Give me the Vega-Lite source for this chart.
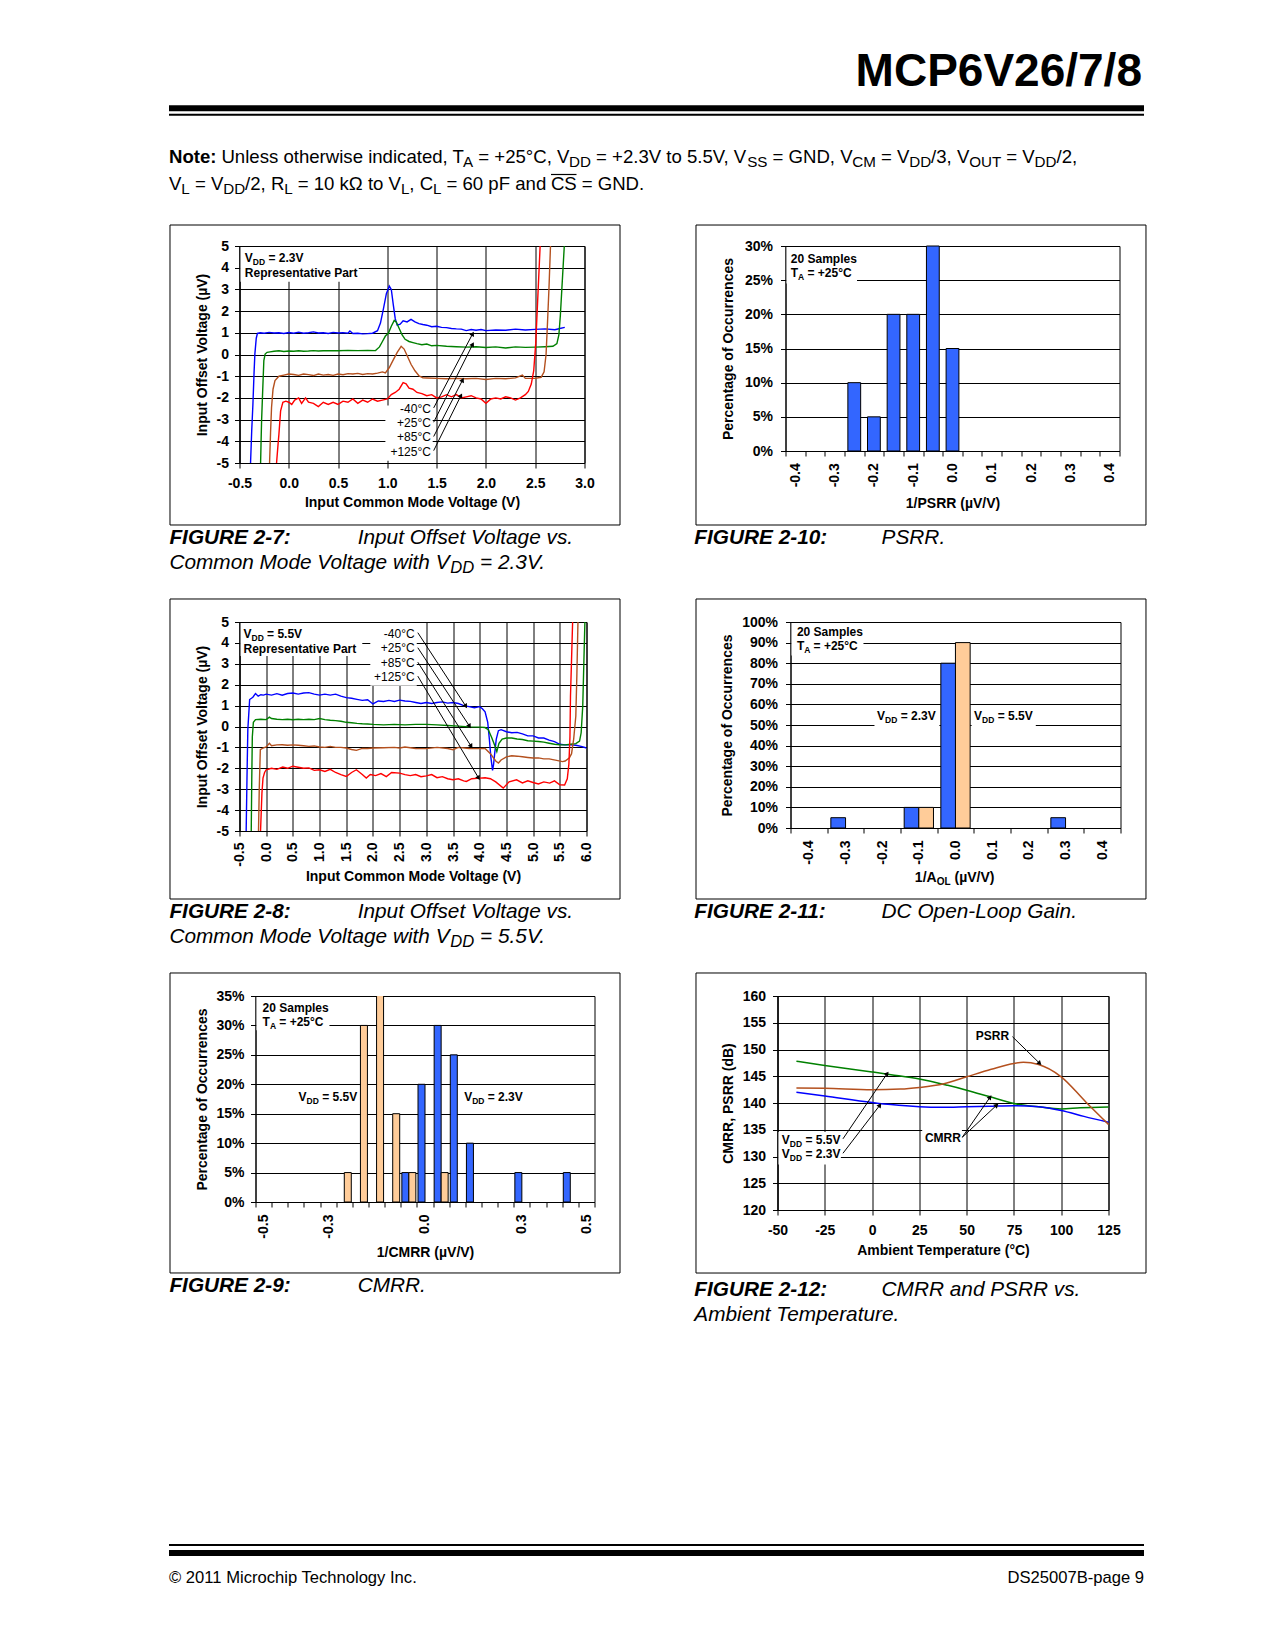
{
"$schema":"https://vega.github.io/schema/vega-lite/v6.json",
"padding":{"left":85.5,"top":0,"right":0,"bottom":0},
"columns":1,"spacing":0,
"config":{
 "font":"Liberation Sans",
 "view":{"stroke":"black","strokeWidth":1},
 "axis":{"domainColor":"black","tickColor":"black","gridColor":"black","gridOpacity":1,"labelColor":"black","titleColor":"black","labelFont":"Liberation Sans","titleFont":"Liberation Sans","labelFontSize":14,"titleFontSize":14,"labelFontWeight":"bold","titleFontWeight":"bold","tickSize":5,"tickCount":60,"labelFlush":false,"labelOverlap":false,"labelBound":false,"domainWidth":1,"gridWidth":1,"tickWidth":1},
 "text":{"font":"Liberation Sans","fill":"black","baseline":"alphabetic"}
},
"concat":[
{
 "width":1059,"height":224,"view":{"stroke":null},
 "layer":[
  {"data":{"values":[{"x":169,"x2":1144,"y":108.3}]},"mark":{"type":"rule","strokeWidth":6,"color":"black"},
   "encoding":{"x":{"field":"x","type":"quantitative","scale":{"domain":[85.5,1144.5],"nice":false,"zero":false},"axis":null},"x2":{"field":"x2"},"y":{"field":"y","type":"quantitative","scale":{"domain":[0,224],"nice":false,"zero":false,"reverse":true},"axis":null}}},
  {"data":{"values":[{"x":169,"x2":1144,"y":114.8}]},"mark":{"type":"rule","strokeWidth":2,"color":"black"},
   "encoding":{"x":{"field":"x","type":"quantitative","axis":null},"x2":{"field":"x2"},"y":{"field":"y","type":"quantitative","axis":null}}},
  {"data":{"values":[{"x":1142,"y":86,"t":"MCP6V26/7/8"}]},"mark":{"type":"text","fontWeight":"bold","fontSize":46,"align":"right","baseline":"alphabetic"},
   "encoding":{"x":{"field":"x","type":"quantitative","axis":null},"y":{"field":"y","type":"quantitative","axis":null},"text":{"field":"t"}}},
  {"data":{"values":[{"x":169,"y":163,"t":"Note:"}]},"mark":{"type":"text","fontWeight":"bold","fontSize":18.6,"align":"left","baseline":"alphabetic"},
   "encoding":{"x":{"field":"x","type":"quantitative","axis":null},"y":{"field":"y","type":"quantitative","axis":null},"text":{"field":"t"}}},
  {"data":{"values":[
    {"x":221.4,"y":163,"t":"Unless otherwise indicated, T"},
    {"x":478.3,"y":163,"t":"= +25°C, V"},
    {"x":596.0,"y":163,"t":"= +2.3V to 5.5V, V"},
    {"x":772.5,"y":163,"t":"= GND, V"},
    {"x":880.9,"y":163,"t":"= V"},
    {"x":931.1,"y":163,"t":"/3, V"},
    {"x":1006.3,"y":163,"t":"= V"},
    {"x":1056.5,"y":163,"t":"/2,"},
    {"x":169,"y":190,"t":"V"},
    {"x":194.9,"y":190,"t":"= V"},
    {"x":245.1,"y":190,"t":"/2, R"},
    {"x":297.7,"y":190,"t":"= 10 kΩ to V"},
    {"x":409.3,"y":190,"t":", C"},
    {"x":446.5,"y":190,"t":"= 60 pF and"},
    {"x":550.9,"y":190,"t":"CS"},
    {"x":581.7,"y":190,"t":"= GND."}]},
   "mark":{"type":"text","fontSize":18.6,"align":"left","baseline":"alphabetic"},
   "encoding":{"x":{"field":"x","type":"quantitative","axis":null},"y":{"field":"y","type":"quantitative","axis":null},"text":{"field":"t"}}},
  {"data":{"values":[
    {"x":463.1,"y":163,"t":"A"},{"x":569.0,"y":163,"t":"DD"},{"x":747.2,"y":163,"t":"SS"},{"x":852.2,"y":163,"t":"CM"},{"x":909.2,"y":163,"t":"DD"},{"x":969.2,"y":163,"t":"OUT"},{"x":1034.6,"y":163,"t":"DD"},
    {"x":181.3,"y":190,"t":"L"},{"x":223.2,"y":190,"t":"DD"},{"x":284.2,"y":190,"t":"L"},{"x":400.9,"y":190,"t":"L"},{"x":433.0,"y":190,"t":"L"}]},
   "mark":{"type":"text","fontSize":15.2,"align":"left","baseline":"alphabetic","dy":4},
   "encoding":{"x":{"field":"x","type":"quantitative","axis":null},"y":{"field":"y","type":"quantitative","axis":null},"text":{"field":"t"}}},
  {"data":{"values":[{"x":551,"x2":576.5,"y":174.5}]},"mark":{"type":"rule","strokeWidth":1.2,"color":"black"},
   "encoding":{"x":{"field":"x","type":"quantitative","axis":null},"x2":{"field":"x2"},"y":{"field":"y","type":"quantitative","axis":null}}}
 ]
},
{"columns":3,"spacing":73,"concat":[
 {"width":10,"height":10,"view":{"stroke":null},"data":{"values":[{}]},"mark":{"type":"point","opacity":0,"size":1},"encoding":{}},
 {
  "width":345,"height":217,
  "layer":[
   {"data":{"values":[{"x":-1.2051,"x2":3.3602,"y":5.9677,"y2":-7.8571}]},
    "mark":{"type":"rect","fillOpacity":0,"stroke":"black","strokeWidth":1},
    "encoding":{
     "x":{"field":"x","type":"quantitative","scale":{"domain":[-0.5,3],"nice":false,"zero":false,"padding":0},"axis":{"values":[-0.5,0,0.5,1,1.5,2,2.5,3],"tickCount":60,"format":".1f","labelExpr":"replace(datum.label,'−','-')","title":"Input Common Mode Voltage (V)","grid":true,"labelPadding":8.5,"titlePadding":4.5}},
     "x2":{"field":"x2"},
     "y":{"field":"y","type":"quantitative","scale":{"domain":[-5,5],"nice":false,"zero":false,"padding":0},"axis":{"values":[-5,-4,-3,-2,-1,0,1,2,3,4,5],"tickCount":60,"format":"d","labelExpr":"replace(datum.label,'−','-')","title":"Input Offset Voltage (µV)","grid":true,"labelPadding":6,"titlePadding":6.5}},
     "y2":{"field":"y2"}}},
   {"data":{"values":[
    {"x":-0.388,"y":-5,"s":"a"},{"x":-0.376,"y":-3.5,"s":"a"},{"x":-0.364,"y":-2.3,"s":"a"},{"x":-0.352,"y":-0.8,"s":"a"},{"x":-0.344,"y":0.03,"s":"a"},{"x":-0.33,"y":0.75,"s":"a"},{"x":-0.318,"y":0.97,"s":"a"},{"x":-0.29,"y":1.0,"s":"a"},{"x":-0.25,"y":0.98,"s":"a"},{"x":-0.2,"y":1.02,"s":"a"},{"x":-0.15,"y":0.99,"s":"a"},{"x":-0.1,"y":1.0,"s":"a"},{"x":-0.05,"y":0.97,"s":"a"},{"x":0,"y":1.01,"s":"a"},{"x":0.05,"y":0.98,"s":"a"},{"x":0.1,"y":1.03,"s":"a"},{"x":0.15,"y":0.98,"s":"a"},{"x":0.2,"y":1.0,"s":"a"},{"x":0.25,"y":1.04,"s":"a"},{"x":0.3,"y":0.99,"s":"a"},{"x":0.35,"y":1.0,"s":"a"},{"x":0.4,"y":0.97,"s":"a"},{"x":0.45,"y":1.02,"s":"a"},{"x":0.5,"y":0.99,"s":"a"},{"x":0.55,"y":1.01,"s":"a"},{"x":0.6,"y":0.98,"s":"a"},{"x":0.62,"y":1.08,"s":"a"},{"x":0.65,"y":0.97,"s":"a"},{"x":0.7,"y":0.98,"s":"a"},{"x":0.75,"y":0.95,"s":"a"},{"x":0.8,"y":0.96,"s":"a"},{"x":0.85,"y":0.98,"s":"a"},{"x":0.9,"y":1.1,"s":"a"},{"x":0.93,"y":1.45,"s":"a"},{"x":0.96,"y":2.1,"s":"a"},{"x":0.99,"y":2.8,"s":"a"},{"x":1.02,"y":3.15,"s":"a"},{"x":1.04,"y":3.0,"s":"a"},{"x":1.06,"y":2.3,"s":"a"},{"x":1.08,"y":1.65,"s":"a"},{"x":1.1,"y":1.35,"s":"a"},{"x":1.13,"y":1.4,"s":"a"},{"x":1.16,"y":1.55,"s":"a"},{"x":1.2,"y":1.5,"s":"a"},{"x":1.24,"y":1.62,"s":"a"},{"x":1.28,"y":1.5,"s":"a"},{"x":1.32,"y":1.42,"s":"a"},{"x":1.36,"y":1.38,"s":"a"},{"x":1.4,"y":1.35,"s":"a"},{"x":1.45,"y":1.28,"s":"a"},{"x":1.5,"y":1.3,"s":"a"},{"x":1.55,"y":1.25,"s":"a"},{"x":1.6,"y":1.24,"s":"a"},{"x":1.65,"y":1.2,"s":"a"},{"x":1.7,"y":1.18,"s":"a"},{"x":1.75,"y":1.17,"s":"a"},{"x":1.8,"y":1.1,"s":"a"},{"x":1.85,"y":1.15,"s":"a"},{"x":1.9,"y":1.12,"s":"a"},{"x":1.95,"y":1.15,"s":"a"},{"x":2.0,"y":1.1,"s":"a"},{"x":2.1,"y":1.13,"s":"a"},{"x":2.2,"y":1.12,"s":"a"},{"x":2.3,"y":1.17,"s":"a"},{"x":2.4,"y":1.13,"s":"a"},{"x":2.5,"y":1.16,"s":"a"},{"x":2.6,"y":1.18,"s":"a"},{"x":2.7,"y":1.14,"s":"a"},{"x":2.75,"y":1.2,"s":"a"},{"x":2.8,"y":1.25,"s":"a"},
    {"x":-0.286,"y":-5,"s":"b"},{"x":-0.281,"y":-4,"s":"b"},{"x":-0.276,"y":-3.06,"s":"b"},{"x":-0.265,"y":-1.7,"s":"b"},{"x":-0.253,"y":-0.28,"s":"b"},{"x":-0.24,"y":0.02,"s":"b"},{"x":-0.22,"y":0.1,"s":"b"},{"x":-0.19,"y":0.12,"s":"b"},{"x":-0.15,"y":0.15,"s":"b"},{"x":-0.1,"y":0.17,"s":"b"},{"x":-0.05,"y":0.14,"s":"b"},{"x":0,"y":0.16,"s":"b"},{"x":0.05,"y":0.15,"s":"b"},{"x":0.1,"y":0.17,"s":"b"},{"x":0.15,"y":0.15,"s":"b"},{"x":0.2,"y":0.16,"s":"b"},{"x":0.25,"y":0.18,"s":"b"},{"x":0.3,"y":0.16,"s":"b"},{"x":0.35,"y":0.17,"s":"b"},{"x":0.4,"y":0.18,"s":"b"},{"x":0.5,"y":0.17,"s":"b"},{"x":0.6,"y":0.19,"s":"b"},{"x":0.7,"y":0.18,"s":"b"},{"x":0.8,"y":0.19,"s":"b"},{"x":0.88,"y":0.18,"s":"b"},{"x":0.92,"y":0.35,"s":"b"},{"x":0.95,"y":0.6,"s":"b"},{"x":0.98,"y":0.85,"s":"b"},{"x":1.01,"y":0.98,"s":"b"},{"x":1.04,"y":1.3,"s":"b"},{"x":1.07,"y":1.57,"s":"b"},{"x":1.09,"y":1.5,"s":"b"},{"x":1.12,"y":1.2,"s":"b"},{"x":1.15,"y":0.9,"s":"b"},{"x":1.18,"y":0.7,"s":"b"},{"x":1.22,"y":0.6,"s":"b"},{"x":1.26,"y":0.55,"s":"b"},{"x":1.3,"y":0.5,"s":"b"},{"x":1.35,"y":0.45,"s":"b"},{"x":1.4,"y":0.48,"s":"b"},{"x":1.45,"y":0.4,"s":"b"},{"x":1.5,"y":0.42,"s":"b"},{"x":1.6,"y":0.38,"s":"b"},{"x":1.7,"y":0.36,"s":"b"},{"x":1.8,"y":0.34,"s":"b"},{"x":1.9,"y":0.36,"s":"b"},{"x":2.0,"y":0.32,"s":"b"},{"x":2.1,"y":0.35,"s":"b"},{"x":2.2,"y":0.3,"s":"b"},{"x":2.3,"y":0.35,"s":"b"},{"x":2.4,"y":0.33,"s":"b"},{"x":2.5,"y":0.34,"s":"b"},{"x":2.6,"y":0.36,"s":"b"},{"x":2.68,"y":0.38,"s":"b"},{"x":2.72,"y":0.5,"s":"b"},{"x":2.74,"y":0.9,"s":"b"},{"x":2.755,"y":1.8,"s":"b"},{"x":2.77,"y":3.0,"s":"b"},{"x":2.785,"y":4.2,"s":"b"},{"x":2.795,"y":5.0,"s":"b"},
    {"x":-0.195,"y":-5,"s":"c"},{"x":-0.185,"y":-3.6,"s":"c"},{"x":-0.175,"y":-2.44,"s":"c"},{"x":-0.16,"y":-1.6,"s":"c"},{"x":-0.14,"y":-1.2,"s":"c"},{"x":-0.1,"y":-1.0,"s":"c"},{"x":-0.05,"y":-0.95,"s":"c"},{"x":0,"y":-0.9,"s":"c"},{"x":0.05,"y":-0.92,"s":"c"},{"x":0.1,"y":-0.96,"s":"c"},{"x":0.15,"y":-0.9,"s":"c"},{"x":0.2,"y":-0.93,"s":"c"},{"x":0.25,"y":-0.97,"s":"c"},{"x":0.3,"y":-0.9,"s":"c"},{"x":0.35,"y":-0.95,"s":"c"},{"x":0.4,"y":-0.92,"s":"c"},{"x":0.45,"y":-0.96,"s":"c"},{"x":0.5,"y":-0.9,"s":"c"},{"x":0.55,"y":-0.93,"s":"c"},{"x":0.6,"y":-0.88,"s":"c"},{"x":0.65,"y":-0.9,"s":"c"},{"x":0.7,"y":-0.87,"s":"c"},{"x":0.75,"y":-0.92,"s":"c"},{"x":0.8,"y":-0.88,"s":"c"},{"x":0.85,"y":-0.9,"s":"c"},{"x":0.9,"y":-0.86,"s":"c"},{"x":0.95,"y":-0.8,"s":"c"},{"x":0.98,"y":-0.85,"s":"c"},{"x":1.02,"y":-0.6,"s":"c"},{"x":1.06,"y":-0.25,"s":"c"},{"x":1.1,"y":0.1,"s":"c"},{"x":1.14,"y":0.38,"s":"c"},{"x":1.17,"y":0.25,"s":"c"},{"x":1.2,"y":-0.05,"s":"c"},{"x":1.24,"y":-0.45,"s":"c"},{"x":1.28,"y":-0.75,"s":"c"},{"x":1.32,"y":-0.98,"s":"c"},{"x":1.36,"y":-1.07,"s":"c"},{"x":1.4,"y":-1.08,"s":"c"},{"x":1.5,"y":-1.1,"s":"c"},{"x":1.6,"y":-1.12,"s":"c"},{"x":1.7,"y":-1.1,"s":"c"},{"x":1.8,"y":-1.12,"s":"c"},{"x":1.9,"y":-1.1,"s":"c"},{"x":2.0,"y":-1.15,"s":"c"},{"x":2.1,"y":-1.1,"s":"c"},{"x":2.2,"y":-1.12,"s":"c"},{"x":2.3,"y":-1.08,"s":"c"},{"x":2.37,"y":-0.95,"s":"c"},{"x":2.4,"y":-1.1,"s":"c"},{"x":2.5,"y":-1.1,"s":"c"},{"x":2.56,"y":-1.05,"s":"c"},{"x":2.59,"y":-0.8,"s":"c"},{"x":2.61,"y":0.0,"s":"c"},{"x":2.625,"y":1.5,"s":"c"},{"x":2.64,"y":3.1,"s":"c"},{"x":2.655,"y":5.0,"s":"c"},
    {"x":-0.124,"y":-5,"s":"d"},{"x":-0.11,"y":-4.2,"s":"d"},{"x":-0.1,"y":-3.67,"s":"d"},{"x":-0.083,"y":-2.6,"s":"d"},{"x":-0.06,"y":-2.2,"s":"d"},{"x":-0.03,"y":-2.15,"s":"d"},{"x":0,"y":-2.2,"s":"d"},{"x":0.03,"y":-2.3,"s":"d"},{"x":0.06,"y":-2.1,"s":"d"},{"x":0.1,"y":-2.0,"s":"d"},{"x":0.13,"y":-2.25,"s":"d"},{"x":0.17,"y":-2.0,"s":"d"},{"x":0.2,"y":-2.2,"s":"d"},{"x":0.25,"y":-2.25,"s":"d"},{"x":0.3,"y":-2.4,"s":"d"},{"x":0.35,"y":-2.2,"s":"d"},{"x":0.4,"y":-2.3,"s":"d"},{"x":0.45,"y":-2.2,"s":"d"},{"x":0.5,"y":-2.3,"s":"d"},{"x":0.55,"y":-2.15,"s":"d"},{"x":0.6,"y":-2.2,"s":"d"},{"x":0.65,"y":-2.05,"s":"d"},{"x":0.7,"y":-2.25,"s":"d"},{"x":0.75,"y":-2.1,"s":"d"},{"x":0.8,"y":-2.2,"s":"d"},{"x":0.85,"y":-2.05,"s":"d"},{"x":0.9,"y":-2.15,"s":"d"},{"x":0.95,"y":-2.1,"s":"d"},{"x":1.0,"y":-2.05,"s":"d"},{"x":1.04,"y":-1.85,"s":"d"},{"x":1.08,"y":-1.75,"s":"d"},{"x":1.12,"y":-1.6,"s":"d"},{"x":1.16,"y":-1.3,"s":"d"},{"x":1.19,"y":-1.35,"s":"d"},{"x":1.22,"y":-1.55,"s":"d"},{"x":1.26,"y":-1.6,"s":"d"},{"x":1.3,"y":-1.75,"s":"d"},{"x":1.35,"y":-1.8,"s":"d"},{"x":1.4,"y":-1.9,"s":"d"},{"x":1.45,"y":-1.85,"s":"d"},{"x":1.5,"y":-2.0,"s":"d"},{"x":1.55,"y":-1.95,"s":"d"},{"x":1.6,"y":-1.85,"s":"d"},{"x":1.65,"y":-1.95,"s":"d"},{"x":1.7,"y":-1.85,"s":"d"},{"x":1.75,"y":-2.0,"s":"d"},{"x":1.8,"y":-1.95,"s":"d"},{"x":1.85,"y":-1.9,"s":"d"},{"x":1.9,"y":-2.0,"s":"d"},{"x":1.95,"y":-2.05,"s":"d"},{"x":2.0,"y":-2.25,"s":"d"},{"x":2.05,"y":-2.05,"s":"d"},{"x":2.1,"y":-2.0,"s":"d"},{"x":2.15,"y":-2.05,"s":"d"},{"x":2.2,"y":-1.95,"s":"d"},{"x":2.25,"y":-2.0,"s":"d"},{"x":2.3,"y":-2.1,"s":"d"},{"x":2.35,"y":-2.0,"s":"d"},{"x":2.4,"y":-1.85,"s":"d"},{"x":2.43,"y":-1.7,"s":"d"},{"x":2.46,"y":-1.36,"s":"d"},{"x":2.485,"y":-0.74,"s":"d"},{"x":2.505,"y":0.5,"s":"d"},{"x":2.52,"y":2.0,"s":"d"},{"x":2.535,"y":3.5,"s":"d"},{"x":2.55,"y":5.0,"s":"d"}]},
    "mark":{"type":"line","strokeWidth":1.4,"clip":true},
    "encoding":{"x":{"field":"x","type":"quantitative"},"y":{"field":"y","type":"quantitative"},"color":{"field":"s","type":"nominal","scale":{"domain":["a","b","c","d"],"range":["#0000FF","#008000","#B4501E","#FF0000"]},"legend":null}}},
   {"data":{"values":[{"x":-0.49,"x2":0.71,"y":4.955,"y2":3.35},{"x":0.98,"x2":1.46,"y":-2.35,"y2":-4.9}]},
    "mark":{"type":"rect","fill":"white","strokeWidth":0},
    "encoding":{"x":{"field":"x","type":"quantitative"},"x2":{"field":"x2"},"y":{"field":"y","type":"quantitative"},"y2":{"field":"y2"}}},
   {"data":{"values":[{"x":-0.446,"y":4.28,"t":"V"},{"x":-0.2068,"y":4.28,"t":"= 2.3V"},{"x":-0.446,"y":3.55,"t":"Representative Part"}]},
    "mark":{"type":"text","fontWeight":"bold","fontSize":12,"align":"left","baseline":"alphabetic"},
    "encoding":{"x":{"field":"x","type":"quantitative"},"y":{"field":"y","type":"quantitative"},"text":{"field":"t"}}},
   {"data":{"values":[{"x":-0.3648,"y":4.28,"t":"DD"}]},
    "mark":{"type":"text","fontWeight":"bold","fontSize":8.5,"align":"left","baseline":"alphabetic","dy":3},
    "encoding":{"x":{"field":"x","type":"quantitative"},"y":{"field":"y","type":"quantitative"},"text":{"field":"t"}}},
   {"data":{"values":[{"x":1.442,"y":-2.68,"t":"-40°C"},{"x":1.442,"y":-3.33,"t":"+25°C"},{"x":1.442,"y":-4.0,"t":"+85°C"},{"x":1.442,"y":-4.66,"t":"+125°C"}]},
    "mark":{"type":"text","fontSize":12,"align":"right","baseline":"alphabetic"},
    "encoding":{"x":{"field":"x","type":"quantitative"},"y":{"field":"y","type":"quantitative"},"text":{"field":"t"}}},
   {"data":{"values":[{"x":1.47,"y":-2.46,"x2":1.866,"y2":0.96},{"x":1.47,"y":-3.12,"x2":1.866,"y2":0.47},{"x":1.47,"y":-3.78,"x2":1.764,"y2":-1.17},{"x":1.47,"y":-4.43,"x2":1.747,"y2":-1.89}]},
    "mark":{"type":"rule","strokeWidth":1,"color":"black"},
    "encoding":{"x":{"field":"x","type":"quantitative"},"y":{"field":"y","type":"quantitative"},"x2":{"field":"x2"},"y2":{"field":"y2"}}},
   {"data":{"values":[{"x":1.866,"y":0.96},{"x":1.866,"y":0.47},{"x":1.764,"y":-1.17},{"x":1.747,"y":-1.89}]},
    "mark":{"type":"point","shape":"triangle-up","angle":28,"size":28,"filled":true,"color":"black","opacity":1},
    "encoding":{"x":{"field":"x","type":"quantitative"},"y":{"field":"y","type":"quantitative"}}}
  ]
 },
 {
  "width":334,"height":205,
  "layer":[
   {"data":{"values":[{"x":-0.6528,"x2":0.4924,"y":0.3307,"y2":-0.1083}]},
    "mark":{"type":"rect","fillOpacity":0,"stroke":"black","strokeWidth":1},
    "encoding":{
     "x":{"field":"x","type":"quantitative","scale":{"domain":[-0.425,0.425],"nice":false,"zero":false,"padding":0},"axis":{"values":[-0.425,-0.375,-0.325,-0.275,-0.225,-0.175,-0.125,-0.075,-0.025,0.025,0.075,0.125,0.175,0.225,0.275,0.325,0.375,0.425],"tickCount":60,"labelExpr":"abs(round((datum.value+0.025)*20)) % 2 == 0 ? (round((datum.value+0.025)*10) == 0 ? '0.0' : replace(format(round((datum.value+0.025)*10)/10, '.1f'), '−', '-')) : ''","labelOffset":9.8,"labelAngle":-90,"title":"1/PSRR (µV/V)","grid":false,"labelPadding":6.7,"titlePadding":10}},
     "x2":{"field":"x2"},
     "y":{"field":"y","type":"quantitative","scale":{"domain":[0,0.3],"nice":false,"zero":false,"padding":0},"axis":{"values":[0,0.05,0.1,0.15,0.2,0.25,0.3],"tickCount":60,"format":".0%","title":"Percentage of Occurrences","grid":true,"labelPadding":8,"titlePadding":9}},
     "y2":{"field":"y2"}}},
   {"data":{"values":[{"x":-0.25,"y":0.10},{"x":-0.2,"y":0.05},{"x":-0.15,"y":0.20},{"x":-0.1,"y":0.20},{"x":-0.05,"y":0.30},{"x":0,"y":0.15}]},
    "mark":{"type":"bar","orient":"vertical","width":12.8,"fill":"#3366FF","stroke":"black","strokeWidth":1},
    "encoding":{"x":{"field":"x","type":"quantitative"},"y":{"field":"y","type":"quantitative"},"y2":{"datum":0}}},
   {"data":{"values":[{"x":-0.4225,"x2":-0.243,"y":0.2985,"y2":0.245}]},
    "mark":{"type":"rect","fill":"white","strokeWidth":0},
    "encoding":{"x":{"field":"x","type":"quantitative"},"x2":{"field":"x2"},"y":{"field":"y","type":"quantitative"},"y2":{"field":"y2"}}},
   {"data":{"values":[{"x":-0.4115,"y":0.275,"t":"20 Samples"},{"x":-0.4115,"y":0.2548,"t":"T"},{"x":-0.369,"y":0.2548,"t":"= +25°C"}]},
    "mark":{"type":"text","fontWeight":"bold","fontSize":12,"align":"left","baseline":"alphabetic"},
    "encoding":{"x":{"field":"x","type":"quantitative"},"y":{"field":"y","type":"quantitative"},"text":{"field":"t"}}},
   {"data":{"values":[{"x":-0.3929,"y":0.2548,"t":"A"}]},
    "mark":{"type":"text","fontWeight":"bold","fontSize":8.5,"align":"left","baseline":"alphabetic","dy":3},
    "encoding":{"x":{"field":"x","type":"quantitative"},"y":{"field":"y","type":"quantitative"},"text":{"field":"t"}}}
  ]
 }
]},
{
 "width":1059,"height":69.4,"view":{"stroke":null},
 "layer":[
  {"data":{"values":[{"x":169.4,"y":543,"t":"FIGURE 2-7:"},{"x":694.3,"y":543,"t":"FIGURE 2-10:"}]},
   "mark":{"type":"text","fontWeight":"bold","fontStyle":"italic","fontSize":20.8,"align":"left","baseline":"alphabetic"},
   "encoding":{"x":{"field":"x","type":"quantitative","scale":{"domain":[85.5,1144.5],"nice":false,"zero":false},"axis":null},"y":{"field":"y","type":"quantitative","scale":{"domain":[526,595.4],"nice":false,"zero":false,"reverse":true},"axis":null},"text":{"field":"t"}}},
  {"data":{"values":[{"x":357.7,"y":543,"t":"Input Offset Voltage vs."},{"x":169.4,"y":568,"t":"Common Mode Voltage with V"},{"x":480.1,"y":568,"t":"= 2.3V."},{"x":881.6,"y":543,"t":"PSRR."}]},
   "mark":{"type":"text","fontStyle":"italic","fontSize":20.8,"align":"left","baseline":"alphabetic"},
   "encoding":{"x":{"field":"x","type":"quantitative","axis":null},"y":{"field":"y","type":"quantitative","axis":null},"text":{"field":"t"}}},
  {"data":{"values":[{"x":450.3,"y":568,"t":"DD"}]},
   "mark":{"type":"text","fontStyle":"italic","fontSize":16.6,"align":"left","baseline":"alphabetic","dy":3.5},
   "encoding":{"x":{"field":"x","type":"quantitative","axis":null},"y":{"field":"y","type":"quantitative","axis":null},"text":{"field":"t"}}}
 ]
},
{"columns":3,"spacing":73,"concat":[
 {"width":10,"height":10,"view":{"stroke":null},"data":{"values":[{}]},"mark":{"type":"point","opacity":0,"size":1},"encoding":{}},
 {
  "width":347,"height":209,
  "layer":[
   {"data":{"values":[{"x":-1.8019,"x2":6.6276,"y":6.1005,"y2":-8.2536}]},
    "mark":{"type":"rect","fillOpacity":0,"stroke":"black","strokeWidth":1},
    "encoding":{
     "x":{"field":"x","type":"quantitative","scale":{"domain":[-0.5,6],"nice":false,"zero":false,"padding":0},"axis":{"values":[-0.5,0,0.5,1,1.5,2,2.5,3,3.5,4,4.5,5,5.5,6],"tickCount":60,"format":".1f","labelExpr":"replace(datum.label,'−','-')","labelAngle":-90,"title":"Input Common Mode Voltage (V)","grid":true,"labelPadding":6,"titlePadding":3.5}},
     "x2":{"field":"x2"},
     "y":{"field":"y","type":"quantitative","scale":{"domain":[-5,5],"nice":false,"zero":false,"padding":0},"axis":{"values":[-5,-4,-3,-2,-1,0,1,2,3,4,5],"tickCount":60,"format":"d","labelExpr":"replace(datum.label,'−','-')","title":"Input Offset Voltage (µV)","grid":true,"labelPadding":6,"titlePadding":6.5}},
     "y2":{"field":"y2"}}},
   {"data":{"values":[
    {"x":-0.375,"y":-5,"s":"a"},{"x":-0.36,"y":-2.5,"s":"a"},{"x":-0.344,"y":-0.15,"s":"a"},{"x":-0.31,"y":1.29,"s":"a"},{"x":-0.25,"y":1.4,"s":"a"},{"x":-0.2,"y":1.58,"s":"a"},{"x":-0.15,"y":1.45,"s":"a"},{"x":-0.1,"y":1.52,"s":"a"},{"x":-0.05,"y":1.5,"s":"a"},{"x":0,"y":1.55,"s":"a"},{"x":0.1,"y":1.5,"s":"a"},{"x":0.2,"y":1.57,"s":"a"},{"x":0.3,"y":1.5,"s":"a"},{"x":0.4,"y":1.58,"s":"a"},{"x":0.5,"y":1.6,"s":"a"},{"x":0.6,"y":1.55,"s":"a"},{"x":0.7,"y":1.6,"s":"a"},{"x":0.8,"y":1.62,"s":"a"},{"x":0.9,"y":1.55,"s":"a"},{"x":1.0,"y":1.5,"s":"a"},{"x":1.1,"y":1.55,"s":"a"},{"x":1.2,"y":1.5,"s":"a"},{"x":1.3,"y":1.55,"s":"a"},{"x":1.4,"y":1.45,"s":"a"},{"x":1.5,"y":1.38,"s":"a"},{"x":1.6,"y":1.35,"s":"a"},{"x":1.7,"y":1.3,"s":"a"},{"x":1.8,"y":1.25,"s":"a"},{"x":1.9,"y":1.28,"s":"a"},{"x":2.0,"y":1.08,"s":"a"},{"x":2.1,"y":1.22,"s":"a"},{"x":2.2,"y":1.2,"s":"a"},{"x":2.3,"y":1.25,"s":"a"},{"x":2.4,"y":1.2,"s":"a"},{"x":2.5,"y":1.26,"s":"a"},{"x":2.6,"y":1.22,"s":"a"},{"x":2.7,"y":1.2,"s":"a"},{"x":2.8,"y":1.15,"s":"a"},{"x":2.9,"y":1.1,"s":"a"},{"x":3.0,"y":1.15,"s":"a"},{"x":3.1,"y":1.1,"s":"a"},{"x":3.2,"y":1.15,"s":"a"},{"x":3.3,"y":1.18,"s":"a"},{"x":3.4,"y":1.12,"s":"a"},{"x":3.5,"y":1.15,"s":"a"},{"x":3.6,"y":1.1,"s":"a"},{"x":3.7,"y":1.0,"s":"a"},{"x":3.8,"y":0.95,"s":"a"},{"x":3.9,"y":0.9,"s":"a"},{"x":4.0,"y":0.95,"s":"a"},{"x":4.05,"y":0.85,"s":"a"},{"x":4.1,"y":0.7,"s":"a"},{"x":4.15,"y":0.2,"s":"a"},{"x":4.18,"y":-0.6,"s":"a"},{"x":4.21,"y":-1.5,"s":"a"},{"x":4.24,"y":-2.1,"s":"a"},{"x":4.26,"y":-1.8,"s":"a"},{"x":4.28,"y":-1.3,"s":"a"},{"x":4.31,"y":-0.6,"s":"a"},{"x":4.35,"y":-0.2,"s":"a"},{"x":4.4,"y":-0.15,"s":"a"},{"x":4.5,"y":-0.25,"s":"a"},{"x":4.6,"y":-0.3,"s":"a"},{"x":4.7,"y":-0.28,"s":"a"},{"x":4.8,"y":-0.35,"s":"a"},{"x":4.9,"y":-0.45,"s":"a"},{"x":5.0,"y":-0.45,"s":"a"},{"x":5.1,"y":-0.55,"s":"a"},{"x":5.2,"y":-0.55,"s":"a"},{"x":5.3,"y":-0.65,"s":"a"},{"x":5.4,"y":-0.72,"s":"a"},{"x":5.5,"y":-0.85,"s":"a"},{"x":5.6,"y":-0.88,"s":"a"},{"x":5.7,"y":-0.88,"s":"a"},{"x":5.8,"y":-0.9,"s":"a"},{"x":5.9,"y":-0.95,"s":"a"},{"x":6.0,"y":-1.03,"s":"a"},
    {"x":-0.28,"y":-5,"s":"b"},{"x":-0.27,"y":-2.5,"s":"b"},{"x":-0.26,"y":-0.5,"s":"b"},{"x":-0.24,"y":0.2,"s":"b"},{"x":-0.2,"y":0.33,"s":"b"},{"x":-0.1,"y":0.35,"s":"b"},{"x":0,"y":0.33,"s":"b"},{"x":0.06,"y":0.45,"s":"b"},{"x":0.1,"y":0.38,"s":"b"},{"x":0.2,"y":0.35,"s":"b"},{"x":0.3,"y":0.33,"s":"b"},{"x":0.4,"y":0.35,"s":"b"},{"x":0.5,"y":0.32,"s":"b"},{"x":0.6,"y":0.35,"s":"b"},{"x":0.7,"y":0.33,"s":"b"},{"x":0.8,"y":0.35,"s":"b"},{"x":0.9,"y":0.33,"s":"b"},{"x":1.0,"y":0.38,"s":"b"},{"x":1.1,"y":0.33,"s":"b"},{"x":1.2,"y":0.3,"s":"b"},{"x":1.3,"y":0.28,"s":"b"},{"x":1.4,"y":0.25,"s":"b"},{"x":1.5,"y":0.2,"s":"b"},{"x":1.6,"y":0.18,"s":"b"},{"x":1.7,"y":0.15,"s":"b"},{"x":1.8,"y":0.13,"s":"b"},{"x":1.9,"y":0.12,"s":"b"},{"x":2.0,"y":0.1,"s":"b"},{"x":2.2,"y":0.08,"s":"b"},{"x":2.4,"y":0.1,"s":"b"},{"x":2.6,"y":0.08,"s":"b"},{"x":2.8,"y":0.1,"s":"b"},{"x":3.0,"y":0.1,"s":"b"},{"x":3.2,"y":0.08,"s":"b"},{"x":3.4,"y":0.05,"s":"b"},{"x":3.6,"y":0.02,"s":"b"},{"x":3.8,"y":-0.02,"s":"b"},{"x":4.0,"y":-0.03,"s":"b"},{"x":4.1,"y":-0.05,"s":"b"},{"x":4.16,"y":-0.15,"s":"b"},{"x":4.22,"y":-0.5,"s":"b"},{"x":4.28,"y":-0.9,"s":"b"},{"x":4.32,"y":-1.2,"s":"b"},{"x":4.36,"y":-0.8,"s":"b"},{"x":4.42,"y":-0.6,"s":"b"},{"x":4.5,"y":-0.55,"s":"b"},{"x":4.6,"y":-0.55,"s":"b"},{"x":4.7,"y":-0.6,"s":"b"},{"x":4.8,"y":-0.62,"s":"b"},{"x":4.9,"y":-0.68,"s":"b"},{"x":5.0,"y":-0.7,"s":"b"},{"x":5.1,"y":-0.72,"s":"b"},{"x":5.2,"y":-0.75,"s":"b"},{"x":5.3,"y":-0.8,"s":"b"},{"x":5.4,"y":-0.85,"s":"b"},{"x":5.5,"y":-0.87,"s":"b"},{"x":5.6,"y":-0.88,"s":"b"},{"x":5.7,"y":-0.85,"s":"b"},{"x":5.8,"y":-0.82,"s":"b"},{"x":5.87,"y":-0.7,"s":"b"},{"x":5.9,"y":-0.3,"s":"b"},{"x":5.93,"y":1.0,"s":"b"},{"x":5.95,"y":3.0,"s":"b"},{"x":5.97,"y":5.0,"s":"b"},
    {"x":-0.144,"y":-5,"s":"c"},{"x":-0.13,"y":-3,"s":"c"},{"x":-0.11,"y":-1.11,"s":"c"},{"x":-0.06,"y":-1.03,"s":"c"},{"x":0,"y":-0.98,"s":"c"},{"x":0.06,"y":-0.8,"s":"c"},{"x":0.1,"y":-0.92,"s":"c"},{"x":0.2,"y":-0.88,"s":"c"},{"x":0.3,"y":-0.87,"s":"c"},{"x":0.4,"y":-0.9,"s":"c"},{"x":0.5,"y":-0.88,"s":"c"},{"x":0.6,"y":-0.9,"s":"c"},{"x":0.7,"y":-0.92,"s":"c"},{"x":0.8,"y":-0.95,"s":"c"},{"x":0.9,"y":-0.93,"s":"c"},{"x":1.0,"y":-0.98,"s":"c"},{"x":1.1,"y":-1.0,"s":"c"},{"x":1.2,"y":-0.95,"s":"c"},{"x":1.3,"y":-1.0,"s":"c"},{"x":1.4,"y":-1.0,"s":"c"},{"x":1.5,"y":-1.03,"s":"c"},{"x":1.6,"y":-1.1,"s":"c"},{"x":1.69,"y":-1.14,"s":"c"},{"x":1.8,"y":-1.05,"s":"c"},{"x":1.9,"y":-1.05,"s":"c"},{"x":2.0,"y":-1.03,"s":"c"},{"x":2.2,"y":-1.02,"s":"c"},{"x":2.4,"y":-1.0,"s":"c"},{"x":2.5,"y":-1.03,"s":"c"},{"x":2.6,"y":-0.98,"s":"c"},{"x":2.8,"y":-1.05,"s":"c"},{"x":3.0,"y":-1.06,"s":"c"},{"x":3.2,"y":-1.0,"s":"c"},{"x":3.4,"y":-1.05,"s":"c"},{"x":3.5,"y":-1.11,"s":"c"},{"x":3.6,"y":-1.0,"s":"c"},{"x":3.8,"y":-1.05,"s":"c"},{"x":4.0,"y":-1.06,"s":"c"},{"x":4.1,"y":-1.05,"s":"c"},{"x":4.2,"y":-1.3,"s":"c"},{"x":4.3,"y":-1.65,"s":"c"},{"x":4.35,"y":-1.75,"s":"c"},{"x":4.4,"y":-1.6,"s":"c"},{"x":4.5,"y":-1.45,"s":"c"},{"x":4.6,"y":-1.4,"s":"c"},{"x":4.7,"y":-1.42,"s":"c"},{"x":4.8,"y":-1.45,"s":"c"},{"x":4.9,"y":-1.48,"s":"c"},{"x":5.0,"y":-1.51,"s":"c"},{"x":5.1,"y":-1.5,"s":"c"},{"x":5.2,"y":-1.55,"s":"c"},{"x":5.3,"y":-1.55,"s":"c"},{"x":5.44,"y":-1.62,"s":"c"},{"x":5.55,"y":-1.68,"s":"c"},{"x":5.6,"y":-1.65,"s":"c"},{"x":5.68,"y":-1.5,"s":"c"},{"x":5.72,"y":-1.3,"s":"c"},{"x":5.76,"y":-0.6,"s":"c"},{"x":5.8,"y":0.5,"s":"c"},{"x":5.82,"y":2.5,"s":"c"},{"x":5.84,"y":5.0,"s":"c"},
    {"x":-0.106,"y":-5,"s":"d"},{"x":-0.08,"y":-3.2,"s":"d"},{"x":-0.06,"y":-2.47,"s":"d"},{"x":-0.03,"y":-2.2,"s":"d"},{"x":0,"y":-2.07,"s":"d"},{"x":0.1,"y":-2.0,"s":"d"},{"x":0.2,"y":-2.05,"s":"d"},{"x":0.31,"y":-1.94,"s":"d"},{"x":0.4,"y":-2.0,"s":"d"},{"x":0.5,"y":-1.9,"s":"d"},{"x":0.6,"y":-1.95,"s":"d"},{"x":0.7,"y":-2.0,"s":"d"},{"x":0.8,"y":-1.98,"s":"d"},{"x":0.9,"y":-2.1,"s":"d"},{"x":1.0,"y":-2.07,"s":"d"},{"x":1.1,"y":-2.15,"s":"d"},{"x":1.2,"y":-2.05,"s":"d"},{"x":1.3,"y":-2.2,"s":"d"},{"x":1.4,"y":-2.3,"s":"d"},{"x":1.5,"y":-2.39,"s":"d"},{"x":1.6,"y":-2.2,"s":"d"},{"x":1.69,"y":-2.07,"s":"d"},{"x":1.8,"y":-2.3,"s":"d"},{"x":1.875,"y":-2.47,"s":"d"},{"x":1.95,"y":-2.3,"s":"d"},{"x":2.05,"y":-2.35,"s":"d"},{"x":2.15,"y":-2.25,"s":"d"},{"x":2.25,"y":-2.4,"s":"d"},{"x":2.35,"y":-2.2,"s":"d"},{"x":2.5,"y":-2.23,"s":"d"},{"x":2.6,"y":-2.3,"s":"d"},{"x":2.7,"y":-2.35,"s":"d"},{"x":2.8,"y":-2.3,"s":"d"},{"x":2.9,"y":-2.4,"s":"d"},{"x":3.0,"y":-2.36,"s":"d"},{"x":3.1,"y":-2.3,"s":"d"},{"x":3.2,"y":-2.45,"s":"d"},{"x":3.3,"y":-2.4,"s":"d"},{"x":3.4,"y":-2.5,"s":"d"},{"x":3.5,"y":-2.55,"s":"d"},{"x":3.6,"y":-2.5,"s":"d"},{"x":3.7,"y":-2.6,"s":"d"},{"x":3.75,"y":-2.63,"s":"d"},{"x":3.85,"y":-2.5,"s":"d"},{"x":4.0,"y":-2.47,"s":"d"},{"x":4.1,"y":-2.45,"s":"d"},{"x":4.2,"y":-2.5,"s":"d"},{"x":4.3,"y":-2.65,"s":"d"},{"x":4.44,"y":-2.95,"s":"d"},{"x":4.55,"y":-2.65,"s":"d"},{"x":4.69,"y":-2.55,"s":"d"},{"x":4.8,"y":-2.7,"s":"d"},{"x":4.9,"y":-2.6,"s":"d"},{"x":5.0,"y":-2.68,"s":"d"},{"x":5.1,"y":-2.75,"s":"d"},{"x":5.2,"y":-2.65,"s":"d"},{"x":5.31,"y":-2.71,"s":"d"},{"x":5.4,"y":-2.6,"s":"d"},{"x":5.5,"y":-2.79,"s":"d"},{"x":5.59,"y":-2.8,"s":"d"},{"x":5.64,"y":-2.5,"s":"d"},{"x":5.67,"y":-1.8,"s":"d"},{"x":5.69,"y":-0.5,"s":"d"},{"x":5.7,"y":1.45,"s":"d"},{"x":5.72,"y":3.2,"s":"d"},{"x":5.74,"y":5.0,"s":"d"}]},
    "mark":{"type":"line","strokeWidth":1.4,"clip":true},
    "encoding":{"x":{"field":"x","type":"quantitative"},"y":{"field":"y","type":"quantitative"},"color":{"field":"s","type":"nominal","scale":{"domain":["a","b","c","d"],"range":["#0000FF","#008000","#B4501E","#FF0000"]},"legend":null}}},
   {"data":{"values":[{"x":-0.48,"x2":1.8,"y":4.95,"y2":3.37},{"x":1.95,"x2":2.82,"y":4.95,"y2":1.95}]},
    "mark":{"type":"rect","fill":"white","strokeWidth":0},
    "encoding":{"x":{"field":"x","type":"quantitative"},"x2":{"field":"x2"},"y":{"field":"y","type":"quantitative"},"y2":{"field":"y2"}}},
   {"data":{"values":[{"x":-0.425,"y":4.25,"t":"V"},{"x":0.017,"y":4.25,"t":"= 5.5V"},{"x":-0.425,"y":3.5,"t":"Representative Part"}]},
    "mark":{"type":"text","fontWeight":"bold","fontSize":12,"align":"left","baseline":"alphabetic"},
    "encoding":{"x":{"field":"x","type":"quantitative"},"y":{"field":"y","type":"quantitative"},"text":{"field":"t"}}},
   {"data":{"values":[{"x":-0.275,"y":4.25,"t":"DD"}]},
    "mark":{"type":"text","fontWeight":"bold","fontSize":8.5,"align":"left","baseline":"alphabetic","dy":3},
    "encoding":{"x":{"field":"x","type":"quantitative"},"y":{"field":"y","type":"quantitative"},"text":{"field":"t"}}},
   {"data":{"values":[{"x":2.78,"y":4.25,"t":"-40°C"},{"x":2.78,"y":3.56,"t":"+25°C"},{"x":2.78,"y":2.86,"t":"+85°C"},{"x":2.78,"y":2.17,"t":"+125°C"}]},
    "mark":{"type":"text","fontSize":12,"align":"right","baseline":"alphabetic"},
    "encoding":{"x":{"field":"x","type":"quantitative"},"y":{"field":"y","type":"quantitative"},"text":{"field":"t"}}},
   {"data":{"values":[{"x":2.84,"y":4.49,"x2":3.74,"y2":0.97},{"x":2.84,"y":3.77,"x2":3.81,"y2":0.01},{"x":2.84,"y":3.08,"x2":3.84,"y2":-0.95},{"x":2.84,"y":2.41,"x2":3.98,"y2":-2.47}]},
    "mark":{"type":"rule","strokeWidth":1,"color":"black"},
    "encoding":{"x":{"field":"x","type":"quantitative"},"y":{"field":"y","type":"quantitative"},"x2":{"field":"x2"},"y2":{"field":"y2"}}},
   {"data":{"values":[{"x":3.74,"y":0.97},{"x":3.81,"y":0.01},{"x":3.84,"y":-0.95},{"x":3.98,"y":-2.47}]},
    "mark":{"type":"point","shape":"triangle-up","angle":148,"size":28,"filled":true,"color":"black","opacity":1},
    "encoding":{"x":{"field":"x","type":"quantitative"},"y":{"field":"y","type":"quantitative"}}}
  ]
 },
 {
  "width":330,"height":206,
  "layer":[
   {"data":{"values":[{"x":-0.7077,"x2":0.5195,"y":1.1117,"y2":-0.3447}]},
    "mark":{"type":"rect","fillOpacity":0,"stroke":"black","strokeWidth":1},
    "encoding":{
     "x":{"field":"x","type":"quantitative","scale":{"domain":[-0.45,0.45],"nice":false,"zero":false,"padding":0},"axis":{"values":[-0.45,-0.35,-0.25,-0.15,-0.05,0.05,0.15,0.25,0.35,0.45],"tickCount":60,"labelExpr":"datum.value < 0.44 ? (round((datum.value+0.05)*10) == 0 ? '0.0' : replace(format(round((datum.value+0.05)*10)/10, '.1f'), '−', '-')) : ''","labelOffset":18.3,"labelAngle":-90,"title":null,"titleOpacity":0,"grid":false,"labelPadding":7}},
     "x2":{"field":"x2"},
     "y":{"field":"y","type":"quantitative","scale":{"domain":[0,1],"nice":false,"zero":false,"padding":0},"axis":{"values":[0,0.1,0.2,0.3,0.4,0.5,0.6,0.7,0.8,0.9,1],"tickCount":60,"format":".0%","title":"Percentage of Occurrences","grid":true,"labelPadding":8,"titlePadding":6.7}},
     "y2":{"field":"y2"}}},
   {"data":{"values":[{"x":-0.3,"y":0.05},{"x":-0.1,"y":0.10},{"x":0,"y":0.80},{"x":0.3,"y":0.05}]},
    "mark":{"type":"bar","orient":"vertical","width":14.7,"xOffset":-7.3,"fill":"#3366FF","stroke":"black","strokeWidth":1},
    "encoding":{"x":{"field":"x","type":"quantitative"},"y":{"field":"y","type":"quantitative"},"y2":{"datum":0}}},
   {"data":{"values":[{"x":-0.1,"y":0.10},{"x":0,"y":0.90}]},
    "mark":{"type":"bar","orient":"vertical","width":14.7,"xOffset":7.3,"fill":"#FFCC99","stroke":"black","strokeWidth":1},
    "encoding":{"x":{"field":"x","type":"quantitative"},"y":{"field":"y","type":"quantitative"},"y2":{"datum":0}}},
   {"data":{"values":[{"x":-0.4473,"x2":-0.251,"y":0.995,"y2":0.8374},{"x":-0.221,"x2":-0.044,"y":0.5825,"y2":0.4903},{"x":0.044,"x2":0.219,"y":0.5825,"y2":0.4903}]},
    "mark":{"type":"rect","fill":"white","strokeWidth":0},
    "encoding":{"x":{"field":"x","type":"quantitative"},"x2":{"field":"x2"},"y":{"field":"y","type":"quantitative"},"y2":{"field":"y2"}}},
   {"data":{"values":[{"x":-0.4326,"y":0.9316,"t":"20 Samples"},{"x":-0.4326,"y":0.8617,"t":"T"},{"x":-0.3871,"y":0.8617,"t":"= +25°C"},{"x":-0.214,"y":0.5257,"t":"V"},{"x":-0.1496,"y":0.5257,"t":"= 2.3V"},{"x":0.0507,"y":0.5257,"t":"V"},{"x":0.1151,"y":0.5257,"t":"= 5.5V"}]},
    "mark":{"type":"text","fontWeight":"bold","fontSize":12,"align":"left","baseline":"alphabetic"},
    "encoding":{"x":{"field":"x","type":"quantitative"},"y":{"field":"y","type":"quantitative"},"text":{"field":"t"}}},
   {"data":{"values":[{"x":-0.4127,"y":0.8617,"t":"A"},{"x":-0.1922,"y":0.5257,"t":"DD"},{"x":0.0725,"y":0.5257,"t":"DD"}]},
    "mark":{"type":"text","fontWeight":"bold","fontSize":8.5,"align":"left","baseline":"alphabetic","dy":3},
    "encoding":{"x":{"field":"x","type":"quantitative"},"y":{"field":"y","type":"quantitative"},"text":{"field":"t"}}},
   {"data":{"values":[{"x":-0.1108,"y":-0.2621,"t":"1/A"},{"x":-0.0027,"y":-0.2621,"t":"(µV/V)"}]},
    "mark":{"type":"text","fontWeight":"bold","fontSize":14,"align":"left","baseline":"alphabetic"},
    "encoding":{"x":{"field":"x","type":"quantitative"},"y":{"field":"y","type":"quantitative"},"text":{"field":"t"}}},
   {"data":{"values":[{"x":-0.0513,"y":-0.2621,"t":"OL"}]},
    "mark":{"type":"text","fontWeight":"bold","fontSize":10,"align":"left","baseline":"alphabetic","dy":3},
    "encoding":{"x":{"field":"x","type":"quantitative"},"y":{"field":"y","type":"quantitative"},"text":{"field":"t"}}}
  ]
 }
]},
{
 "width":1059,"height":70,"view":{"stroke":null},
 "layer":[
  {"data":{"values":[{"x":169.4,"y":916,"t":"FIGURE 2-8:"},{"x":694.3,"y":916,"t":"FIGURE 2-11:"}]},
   "mark":{"type":"text","fontWeight":"bold","fontStyle":"italic","fontSize":20.8,"align":"left","baseline":"alphabetic"},
   "encoding":{"x":{"field":"x","type":"quantitative","scale":{"domain":[85.5,1144.5],"nice":false,"zero":false},"axis":null},"y":{"field":"y","type":"quantitative","scale":{"domain":[899,969],"nice":false,"zero":false,"reverse":true},"axis":null},"text":{"field":"t"}}},
  {"data":{"values":[{"x":357.7,"y":916,"t":"Input Offset Voltage vs."},{"x":169.4,"y":941,"t":"Common Mode Voltage with V"},{"x":480.1,"y":941,"t":"= 5.5V."},{"x":881.6,"y":916,"t":"DC Open-Loop Gain."}]},
   "mark":{"type":"text","fontStyle":"italic","fontSize":20.8,"align":"left","baseline":"alphabetic"},
   "encoding":{"x":{"field":"x","type":"quantitative","axis":null},"y":{"field":"y","type":"quantitative","axis":null},"text":{"field":"t"}}},
  {"data":{"values":[{"x":450.3,"y":941,"t":"DD"}]},
   "mark":{"type":"text","fontStyle":"italic","fontSize":16.6,"align":"left","baseline":"alphabetic","dy":3.5},
   "encoding":{"x":{"field":"x","type":"quantitative","axis":null},"y":{"field":"y","type":"quantitative","axis":null},"text":{"field":"t"}}}
 ]
},
{"columns":3,"spacing":73,"concat":[
 {"width":10,"height":10,"view":{"stroke":null},"data":{"values":[{}]},"mark":{"type":"point","opacity":0,"size":1},"encoding":{}},
 {
  "width":339,"height":206,
  "layer":[
   {"data":{"values":[{"x":-0.7898,"x2":0.604,"y":0.3891,"y2":-0.1206}]},
    "mark":{"type":"rect","fillOpacity":0,"stroke":"black","strokeWidth":1},
    "encoding":{
     "x":{"field":"x","type":"quantitative","scale":{"domain":[-0.525,0.525],"nice":false,"zero":false,"padding":0},"axis":{"values":[-0.525,-0.475,-0.425,-0.375,-0.325,-0.275,-0.225,-0.175,-0.125,-0.075,-0.025,0.025,0.075,0.125,0.175,0.225,0.275,0.325,0.375,0.425,0.475,0.525],"tickCount":60,"labelExpr":"abs(round((datum.value+0.025)*20)) % 2 == 0 && (round((datum.value+0.025)*10) == -5 || round((datum.value+0.025)*10) == -3 || round((datum.value+0.025)*10) == 3 || round((datum.value+0.025)*10) == 5) ? replace(format(round((datum.value+0.025)*10)/10, '.1f'), '−', '-') : (round((datum.value+0.025)*20) == 0 ? '0.0' : '')","labelOffset":8.07,"labelAngle":-90,"title":"1/CMRR (µV/V)","grid":false,"labelPadding":7,"titlePadding":7}},
     "x2":{"field":"x2"},
     "y":{"field":"y","type":"quantitative","scale":{"domain":[0,0.35],"nice":false,"zero":false,"padding":0},"axis":{"values":[0,0.05,0.1,0.15,0.2,0.25,0.3,0.35],"tickCount":60,"format":".0%","title":"Percentage of Occurrences","grid":true,"labelPadding":6.5,"titlePadding":6.8}},
     "y2":{"field":"y2"}}},
   {"data":{"values":[{"x":-0.05,"y":0.05},{"x":0,"y":0.20},{"x":0.05,"y":0.30},{"x":0.1,"y":0.25},{"x":0.15,"y":0.10},{"x":0.3,"y":0.05},{"x":0.45,"y":0.05}]},
    "mark":{"type":"bar","orient":"vertical","width":7,"xOffset":-3.5,"fill":"#3366FF","stroke":"black","strokeWidth":1,"clip":true},
    "encoding":{"x":{"field":"x","type":"quantitative"},"y":{"field":"y","type":"quantitative"},"y2":{"datum":0}}},
   {"data":{"values":[{"x":-0.25,"y":0.05},{"x":-0.2,"y":0.30},{"x":-0.15,"y":0.40},{"x":-0.1,"y":0.15},{"x":-0.05,"y":0.05},{"x":0.05,"y":0.05}]},
    "mark":{"type":"bar","orient":"vertical","width":7,"xOffset":3.5,"fill":"#FFCC99","stroke":"black","strokeWidth":1,"clip":true},
    "encoding":{"x":{"field":"x","type":"quantitative"},"y":{"field":"y","type":"quantitative"},"y2":{"datum":0}}},
   {"data":{"values":[{"x":-0.522,"x2":-0.296,"y":0.3483,"y2":0.292}]},
    "mark":{"type":"rect","fill":"white","strokeWidth":0},
    "encoding":{"x":{"field":"x","type":"quantitative"},"x2":{"field":"x2"},"y":{"field":"y","type":"quantitative"},"y2":{"field":"y2"}}},
   {"data":{"values":[{"x":-0.503,"y":0.323,"t":"20 Samples"},{"x":-0.503,"y":0.2987,"t":"T"},{"x":-0.4513,"y":0.2987,"t":"= +25°C"},{"x":-0.3915,"y":0.171,"t":"V"},{"x":-0.3184,"y":0.171,"t":"= 5.5V"},{"x":0.1213,"y":0.171,"t":"V"},{"x":0.1944,"y":0.171,"t":"= 2.3V"}]},
    "mark":{"type":"text","fontWeight":"bold","fontSize":12,"align":"left","baseline":"alphabetic"},
    "encoding":{"x":{"field":"x","type":"quantitative"},"y":{"field":"y","type":"quantitative"},"text":{"field":"t"}}},
   {"data":{"values":[{"x":-0.4804,"y":0.2987,"t":"A"},{"x":-0.3667,"y":0.171,"t":"DD"},{"x":0.1461,"y":0.171,"t":"DD"}]},
    "mark":{"type":"text","fontWeight":"bold","fontSize":8.5,"align":"left","baseline":"alphabetic","dy":3},
    "encoding":{"x":{"field":"x","type":"quantitative"},"y":{"field":"y","type":"quantitative"},"text":{"field":"t"}}}
  ]
 },
 {
  "width":331,"height":214,
  "layer":[
   {"data":{"values":[{"x":-93.09,"x2":144.83,"y":164.3,"y2":108.22}]},
    "mark":{"type":"rect","fillOpacity":0,"stroke":"black","strokeWidth":1},
    "encoding":{
     "x":{"field":"x","type":"quantitative","scale":{"domain":[-50,125],"nice":false,"zero":false,"padding":0},"axis":{"values":[-50,-25,0,25,50,75,100,125],"tickCount":60,"format":"d","labelExpr":"replace(datum.label,'−','-')","title":"Ambient Temperature (°C)","grid":true,"labelPadding":8,"titlePadding":6}},
     "x2":{"field":"x2"},
     "y":{"field":"y","type":"quantitative","scale":{"domain":[120,160],"nice":false,"zero":false,"padding":0},"axis":{"values":[120,125,130,135,140,145,150,155,160],"tickCount":60,"format":"d","title":"CMRR, PSRR (dB)","grid":true,"labelPadding":7,"titlePadding":7}},
     "y2":{"field":"y2"}}},
   {"data":{"values":[
    {"x":-40,"y":147.8,"s":"b"},{"x":-25,"y":147.0,"s":"b"},{"x":0,"y":145.8,"s":"b"},{"x":10,"y":145.3,"s":"b"},{"x":25,"y":144.5,"s":"b"},{"x":40,"y":143.3,"s":"b"},{"x":50,"y":142.4,"s":"b"},{"x":62,"y":141.2,"s":"b"},{"x":75,"y":139.9,"s":"b"},{"x":88,"y":139.3,"s":"b"},{"x":100,"y":138.9,"s":"b"},{"x":110,"y":139.1,"s":"b"},{"x":125,"y":139.25,"s":"b"},
    {"x":-40,"y":142.0,"s":"a"},{"x":-25,"y":141.3,"s":"a"},{"x":0,"y":140.1,"s":"a"},{"x":10,"y":139.7,"s":"a"},{"x":25,"y":139.3,"s":"a"},{"x":37,"y":139.2,"s":"a"},{"x":50,"y":139.3,"s":"a"},{"x":62,"y":139.4,"s":"a"},{"x":75,"y":139.5,"s":"a"},{"x":88,"y":139.3,"s":"a"},{"x":100,"y":138.6,"s":"a"},{"x":112,"y":137.5,"s":"a"},{"x":125,"y":136.4,"s":"a"},
    {"x":-40,"y":142.8,"s":"c"},{"x":-25,"y":142.75,"s":"c"},{"x":0,"y":142.5,"s":"c"},{"x":15,"y":142.6,"s":"c"},{"x":25,"y":142.9,"s":"c"},{"x":38,"y":143.6,"s":"c"},{"x":50,"y":144.9,"s":"c"},{"x":63,"y":146.3,"s":"c"},{"x":75,"y":147.4,"s":"c"},{"x":80,"y":147.6,"s":"c"},{"x":88,"y":147.2,"s":"c"},{"x":100,"y":144.9,"s":"c"},{"x":113,"y":140.2,"s":"c"},{"x":125,"y":136.0,"s":"c"}]},
    "mark":{"type":"line","strokeWidth":1.5,"interpolate":"monotone"},
    "encoding":{"x":{"field":"x","type":"quantitative"},"y":{"field":"y","type":"quantitative"},"color":{"field":"s","type":"nominal","scale":{"domain":["a","b","c","d"],"range":["#0000FF","#008000","#B4501E","#FF0000"]},"legend":null}}},
   {"data":{"values":[{"x":26.5,"x2":47.5,"y":136.3,"y2":131.8},{"x":-49.5,"x2":-16.5,"y":134.6,"y2":128.5}]},
    "mark":{"type":"rect","fill":"white","strokeWidth":0},
    "encoding":{"x":{"field":"x","type":"quantitative"},"x2":{"field":"x2"},"y":{"field":"y","type":"quantitative"},"y2":{"field":"y2"}}},
   {"data":{"values":[{"x":54.8,"y":151.7,"t":"PSRR"},{"x":27.93,"y":132.67,"t":"CMRR"},{"x":-47.7,"y":132.35,"t":"V"},{"x":-35.22,"y":132.35,"t":"= 5.5V"},{"x":-47.7,"y":129.66,"t":"V"},{"x":-35.22,"y":129.66,"t":"= 2.3V"}]},
    "mark":{"type":"text","fontWeight":"bold","fontSize":12,"align":"left","baseline":"alphabetic"},
    "encoding":{"x":{"field":"x","type":"quantitative"},"y":{"field":"y","type":"quantitative"},"text":{"field":"t"}}},
   {"data":{"values":[{"x":-43.47,"y":132.35,"t":"DD"},{"x":-43.47,"y":129.66,"t":"DD"}]},
    "mark":{"type":"text","fontWeight":"bold","fontSize":8.5,"align":"left","baseline":"alphabetic","dy":3},
    "encoding":{"x":{"field":"x","type":"quantitative"},"y":{"field":"y","type":"quantitative"},"text":{"field":"t"}}},
   {"data":{"values":[{"x":74.2,"y":152.4,"x2":88.65,"y2":147.4},{"x":47.7,"y":133.6,"x2":62.4,"y2":141.1},{"x":47.7,"y":133.6,"x2":65.9,"y2":139.6},{"x":-15.4,"y":133.3,"x2":8.0,"y2":145.5},{"x":-15.4,"y":130.6,"x2":4.15,"y2":139.6}]},
    "mark":{"type":"rule","strokeWidth":1,"color":"black"},
    "encoding":{"x":{"field":"x","type":"quantitative"},"y":{"field":"y","type":"quantitative"},"x2":{"field":"x2"},"y2":{"field":"y2"}}},
   {"data":{"values":[{"x":88.65,"y":147.4}]},
    "mark":{"type":"point","shape":"triangle-up","angle":134,"size":28,"filled":true,"color":"black","opacity":1},
    "encoding":{"x":{"field":"x","type":"quantitative"},"y":{"field":"y","type":"quantitative"}}},
   {"data":{"values":[{"x":62.4,"y":141.1},{"x":8.0,"y":145.5},{"x":4.15,"y":139.6}]},
    "mark":{"type":"point","shape":"triangle-up","angle":36,"size":28,"filled":true,"color":"black","opacity":1},
    "encoding":{"x":{"field":"x","type":"quantitative"},"y":{"field":"y","type":"quantitative"}}},
   {"data":{"values":[{"x":65.9,"y":139.6}]},
    "mark":{"type":"point","shape":"triangle-up","angle":47,"size":28,"filled":true,"color":"black","opacity":1},
    "encoding":{"x":{"field":"x","type":"quantitative"},"y":{"field":"y","type":"quantitative"}}}
  ]
 }
]},
{
 "width":1059,"height":378,"view":{"stroke":null},
 "layer":[
  {"data":{"values":[{"x":169.4,"y":1289,"t":"FIGURE 2-9:"},{"x":694.3,"y":1292.5,"t":"FIGURE 2-12:"}]},
   "mark":{"type":"text","fontWeight":"bold","fontStyle":"italic","fontSize":20.8,"align":"left","baseline":"alphabetic"},
   "encoding":{"x":{"field":"x","type":"quantitative","scale":{"domain":[85.5,1144.5],"nice":false,"zero":false},"axis":null},"y":{"field":"y","type":"quantitative","scale":{"domain":[1272,1650],"nice":false,"zero":false,"reverse":true},"axis":null},"text":{"field":"t"}}},
  {"data":{"values":[{"x":357.7,"y":1289,"t":"CMRR."},{"x":881.6,"y":1292.5,"t":"CMRR and PSRR vs."},{"x":694.3,"y":1317.5,"t":"Ambient Temperature."}]},
   "mark":{"type":"text","fontStyle":"italic","fontSize":20.8,"align":"left","baseline":"alphabetic"},
   "encoding":{"x":{"field":"x","type":"quantitative","axis":null},"y":{"field":"y","type":"quantitative","axis":null},"text":{"field":"t"}}},
  {"data":{"values":[{"x":169,"x2":1144,"y":1542}]},"mark":{"type":"rule","strokeWidth":2,"color":"black"},
   "encoding":{"x":{"field":"x","type":"quantitative","axis":null},"x2":{"field":"x2"},"y":{"field":"y","type":"quantitative","axis":null}}},
  {"data":{"values":[{"x":169,"x2":1144,"y":1550}]},"mark":{"type":"rule","strokeWidth":6,"color":"black"},
   "encoding":{"x":{"field":"x","type":"quantitative","axis":null},"x2":{"field":"x2"},"y":{"field":"y","type":"quantitative","axis":null}}},
  {"data":{"values":[{"x":169,"y":1580,"t":"© 2011 Microchip Technology Inc."}]},
   "mark":{"type":"text","fontSize":16.6,"align":"left","baseline":"alphabetic"},
   "encoding":{"x":{"field":"x","type":"quantitative","axis":null},"y":{"field":"y","type":"quantitative","axis":null},"text":{"field":"t"}}},
  {"data":{"values":[{"x":1144,"y":1580,"t":"DS25007B-page 9"}]},
   "mark":{"type":"text","fontSize":16.6,"align":"right","baseline":"alphabetic"},
   "encoding":{"x":{"field":"x","type":"quantitative","axis":null},"y":{"field":"y","type":"quantitative","axis":null},"text":{"field":"t"}}}
 ]
}
]
}
